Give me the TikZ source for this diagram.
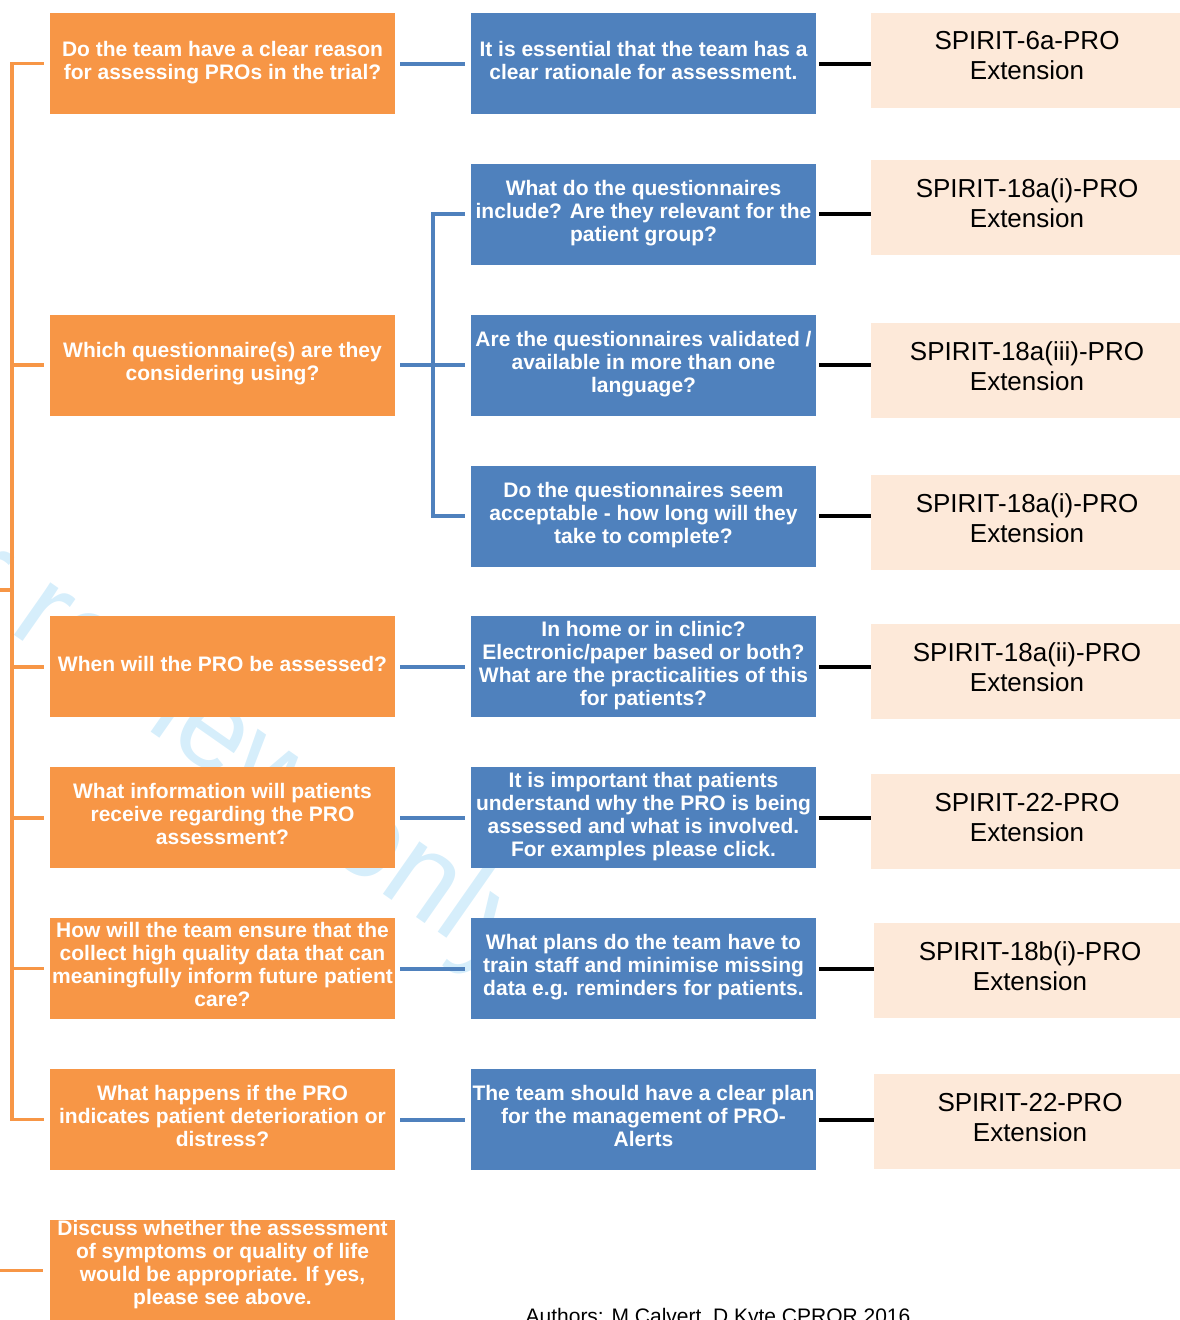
\documentclass[tikz,border=0pt]{standalone}
\usepackage{fontspec}
\setmainfont{Liberation Sans}
\usepackage{tikz}
\usetikzlibrary{calc,positioning,chains}
\definecolor{qorange}{RGB}{247,150,70}
\definecolor{ablue}{RGB}{79,129,189}
\definecolor{speach}{RGB}{253,233,217}
\definecolor{wmblue}{RGB}{214,238,251}

\begin{document}
\begin{tikzpicture}[x=1pt, y=-1pt,
            node distance = 49.86pt and 76pt,
            start chain = B going below,
            qbox/.style = {fill=qorange, text=white, font=\bfseries\fontsize{21}{23}\selectfont,
                    minimum width=345pt, minimum height=101pt, inner sep=0pt, outer sep=0pt,
                    text depth=7pt, align=center},
            abox/.style = {qbox, fill=ablue, on chain=B},
            sbox/.style = {fill=speach, font=\fontsize{26}{30}\selectfont, minimum width=312pt,
                    minimum height=95pt, inner sep=0pt, outer sep=0pt, text depth=9pt, align=center},
            olink/.style = {draw=qorange, line width=3.5pt},
            alink/.style = {draw=ablue, line width=4pt, shorten <=5pt, shorten >=6pt},
            klink/.style = {draw=black, line width=4pt, shorten <=3pt},
        ]

        \useasboundingbox (0,0) rectangle (1180,1320);
        \clip (0,0) rectangle (1180,1320);

        \node[font=\fontsize{121}{121}\selectfont, text=wmblue, rotate=-35, inner sep=0pt] (wm) at (72,638) {For peer review only};

        \node[abox] at (643.5,63.5) {It is essential that the team has a\\clear rationale for assessment.};
        \node[abox] {What do the questionnaires\\include? Are they relevant for the\\patient group?};
        \node[abox] {Are the questionnaires validated /\\available in more than one\\language?};
        \node[abox] {Do the questionnaires seem\\acceptable - how long will they\\take to complete?};
        \node[abox] {In home or in clinic?\\Electronic/paper based or both?\\What are the practicalities of this\\for patients?};
        \node[abox] {It is important that patients\\understand why the PRO is being\\assessed and what is involved.\\For examples please click.};
        \node[abox] {What plans do the team have to\\train staff and minimise missing\\data e.g. reminders for patients.};
        \node[abox] {The team should have a clear plan\\for the management of PRO-\\Alerts};

        \node[qbox, left=of B-1] (Q-1) {Do the team have a clear reason\\for assessing PROs in the trial?};
        \node[qbox, left=of B-3] (Q-2) {Which questionnaire(s) are they\\considering using?};
        \node[qbox, left=of B-5] (Q-3) {When will the PRO be assessed?};
        \node[qbox, left=of B-6] (Q-4) {What information will patients\\receive regarding the PRO\\assessment?};
        \node[qbox, left=of B-7, text depth=9pt] (Q-5) {How will the team ensure that the\\collect high quality data that can\\meaningfully inform future patient\\care?};
        \node[qbox, left=of B-8] (Q-6) {What happens if the PRO\\indicates patient deterioration or\\distress?};
        \node[qbox, below=of Q-6, text depth=17pt] (Q-7) {Discuss whether the assessment\\of symptoms or quality of life\\would be appropriate. If yes,\\please see above.};

        \foreach \i/\lbl/\dy/\dx in {1/6a/3.5pt/55pt, 2/18a(i)/7pt/55pt, 3/18a(iii)/-5pt/55pt, 4/18a(i)/-6pt/55pt,
                5/18a(ii)/-5pt/55pt, 6/22/-4pt/55pt, 7/18b(i)/-2pt/58pt, 8/22/-2pt/58pt}
            {
                \node[sbox, right=\dx of B-\i, yshift=\dy] (S-\i) {SPIRIT-\lbl-PRO\\Extension};
            }

        \coordinate (root) at (0,590);
        \coordinate (trunk) at (12,590);
        \coordinate (root2) at (Q-7.west -| root);
        \draw[olink] (root) -- (trunk);
        \foreach \i in {1,...,6}
            {
                \draw[olink, shorten >=6pt] (trunk) |- (Q-\i.west);
            }
        \draw[olink, shorten >=7pt] (root2) -- (Q-7.west);

        \draw[alink] (Q-1) -- (B-1);
        \coordinate (fork) at ($(Q-2.east)!0.5!(B-3.west)$);
        \draw[alink, shorten >=0pt] (Q-2.east) -- (fork);
        \foreach \j in {2,3,4}
            {
                \draw[alink, shorten <=0pt] (fork) |- (B-\j.west);
            }
        \foreach \i/\j in {3/5,4/6,5/7,6/8}
            {
                \draw[alink] (Q-\i) -- (B-\j);
            }

        \foreach \i in {1,...,8}
            {
                \draw[klink] (B-\i.east) -- (B-\i.east -| S-\i.west);
            }

        \node[font=\fontsize{21}{24}\selectfont, anchor=base] (credit) at (718,1323) {Authors: M Calvert, D Kyte CPROR 2016};
    \end{tikzpicture}
\end{document}
